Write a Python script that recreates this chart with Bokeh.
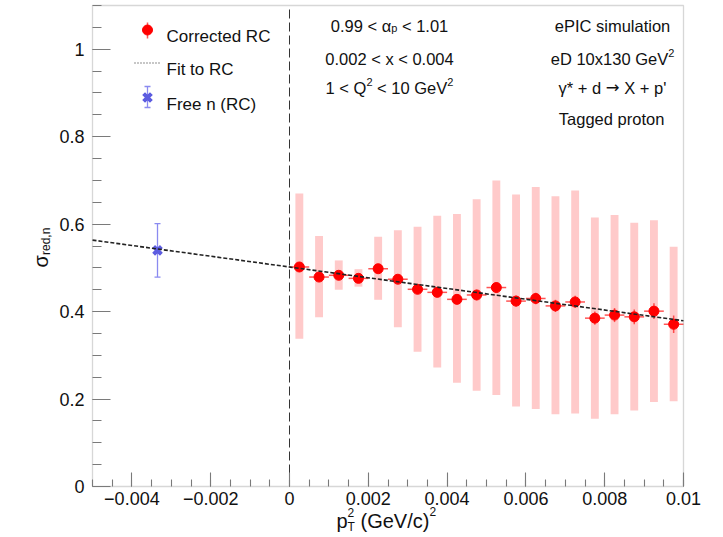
import math

from bokeh.embed import file_html
from bokeh.models import BoxAnnotation, CustomJSTickFormatter, FixedTicker, Label, Range1d
from bokeh.plotting import figure
from bokeh.resources import INLINE

# ---------------------------------------------------------------- data
# p_T^2 bin centres (GeV/c)^2 and bin half width
pt2_centers = [0.00025, 0.00075, 0.00125, 0.00175, 0.00225,
               0.00275, 0.00325, 0.00375, 0.00425, 0.00475,
               0.00525, 0.00575, 0.00625, 0.00675, 0.00725,
               0.00775, 0.00825, 0.00875, 0.00925, 0.00975]
bin_half_width = 0.00025

# reduced neutron cross section after radiative correction
sigma_rc = [0.502, 0.479, 0.483, 0.476, 0.498, 0.474, 0.451, 0.444, 0.428, 0.438,
            0.455, 0.424, 0.430, 0.413, 0.422, 0.385, 0.392, 0.388, 0.401, 0.371]
stat_err = [0.008, 0.009, 0.009, 0.009, 0.010, 0.010, 0.010, 0.011, 0.011, 0.012,
            0.012, 0.013, 0.013, 0.014, 0.014, 0.015, 0.016, 0.017, 0.018, 0.020]

# systematic band per bin (lower / upper edge)
sys_low = [0.338, 0.387, 0.450, 0.457, 0.427, 0.364, 0.308, 0.272, 0.237, 0.219,
           0.209, 0.183, 0.177, 0.165, 0.167, 0.155, 0.165, 0.174, 0.193, 0.195]
sys_high = [0.670, 0.573, 0.517, 0.497, 0.571, 0.586, 0.594, 0.619, 0.623, 0.657,
            0.700, 0.668, 0.685, 0.664, 0.677, 0.615, 0.621, 0.603, 0.609, 0.548]

# free neutron point (extrapolated to the pole)
free_n_pt2 = [-0.00335]
free_n_sigma = [0.540]
free_n_err = [0.061]

# linear fit to the corrected points
fit_intercept = 0.502
fit_slope = -12.3

x_major_ticks = [-0.004, -0.002, 0.0, 0.002, 0.004, 0.006, 0.008, 0.01]
y_major_ticks = [0.0, 0.2, 0.4, 0.6, 0.8, 1.0]

X_MIN, X_MAX = -0.005, 0.01
Y_MIN, Y_MAX = 0.0, 1.1

# ---------------------------------------------------------------- layout
# The plotting frame fills the whole canvas; the axes sit at the edges of
# the data box so that titles with sub/superscripts can live next to them.
W, H = 723, 537
FL, FR, FT, FB = 92, 683, 5, 486          # data box edges in canvas pixels
FONT = "Liberation Sans"
TXT = "#111111"
FRAME = "#7a7a7a"


def cx(px):
    return X_MIN + (px - FL) / (FR - FL) * (X_MAX - X_MIN)


def cy(py):
    return Y_MIN + (FB - py) / (FB - FT) * (Y_MAX - Y_MIN)


p = figure(width=W, height=H,
           x_range=Range1d(cx(0), cx(W)), y_range=Range1d(cy(H), cy(0)),
           output_backend="svg", toolbar_location=None, min_border=0)
p.background_fill_color = "white"
p.border_fill_color = "white"
p.outline_line_color = None
p.xgrid.visible = False
p.ygrid.visible = False

fmt = CustomJSTickFormatter(code="""
    const s = parseFloat(tick.toFixed(4)).toString();
    return s.replace('-', '\\u2212');
""")

x_minor = [round(X_MIN + 0.0005 * i, 5) for i in range(31)]
y_minor = [round(0.05 * i, 3) for i in range(23)]

p.xaxis.fixed_location = Y_MIN
p.yaxis.fixed_location = X_MIN
p.xaxis.ticker = FixedTicker(ticks=x_major_ticks, minor_ticks=x_minor)
p.yaxis.ticker = FixedTicker(ticks=y_major_ticks, minor_ticks=y_minor)
for ax in (p.xaxis, p.yaxis):
    ax.formatter = fmt
    ax.axis_line_color = None
    ax.major_tick_line_color = FRAME
    ax.minor_tick_line_color = FRAME
    ax.major_tick_line_width = 1.1
    ax.minor_tick_line_width = 1.1
    ax.major_tick_out = 0
    ax.minor_tick_out = 0
    ax.major_label_text_font = FONT
    ax.major_label_text_color = TXT
    ax.major_label_text_font_size = "18px"
p.xaxis.major_tick_in = 14
p.xaxis.minor_tick_in = 7
p.yaxis.major_tick_in = 18
p.yaxis.minor_tick_in = 9
p.xaxis.major_label_standoff = 5
p.yaxis.major_label_standoff = 8

# ---------------------------------------------------------------- marks
# systematic bands
box_half = 0.0001
p.quad(left=[x - box_half for x in pt2_centers], right=[x + box_half for x in pt2_centers],
       bottom=sys_low, top=sys_high, fill_color="#ffcaca", line_color=None)

# vertical reference line at p_T^2 = 0
p.segment(x0=[0.0], x1=[0.0], y0=[Y_MIN], y1=[Y_MAX],
          line_color="#333333", line_width=1, line_dash="9 4")

# statistical error bars
p.segment(x0=pt2_centers, x1=pt2_centers,
          y0=[v - e for v, e in zip(sigma_rc, stat_err)],
          y1=[v + e for v, e in zip(sigma_rc, stat_err)],
          line_color="#ff2a2a", line_width=1.5, line_alpha=0.8)
p.segment(x0=[x - bin_half_width for x in pt2_centers], x1=[x + bin_half_width for x in pt2_centers],
          y0=sigma_rc, y1=sigma_rc, line_color="#ff2a2a", line_width=1.5, line_alpha=0.8)
p.scatter(x=pt2_centers, y=sigma_rc, marker="circle", size=10,
          fill_color="#ff0000", line_color="#ff0000")

# free neutron point
BLUE = "#5c5ce0"
BLUE_BAR = "#8a8af0"
p.segment(x0=free_n_pt2, x1=free_n_pt2,
          y0=[v - e for v, e in zip(free_n_sigma, free_n_err)],
          y1=[v + e for v, e in zip(free_n_sigma, free_n_err)],
          line_color=BLUE_BAR, line_width=1.3)
p.scatter(x=free_n_pt2 * 2,
          y=[free_n_sigma[0] - free_n_err[0], free_n_sigma[0] + free_n_err[0]],
          marker="dash", size=6, line_color=BLUE_BAR, line_width=1.3)
p.scatter(x=free_n_pt2, y=free_n_sigma, marker="x", size=11, line_color=BLUE, line_width=4)

# fit line across the full range
fit_x = [X_MIN, X_MAX]
fit_y = [fit_intercept + fit_slope * x for x in fit_x]
p.line(x=fit_x, y=fit_y, line_color="#222222", line_width=1.6, line_dash="4 2")

# frame around the data box
p.add_layout(BoxAnnotation(left=X_MIN, right=X_MAX, bottom=Y_MIN, top=Y_MAX,
                           fill_color=None, fill_alpha=0, line_color=FRAME, line_width=1.3))

# ---------------------------------------------------------------- legend key
p.segment(x0=[cx(147)], x1=[cx(147)], y0=[cy(38)], y1=[cy(22)],
          line_color="#ff2a2a", line_width=1.5, line_alpha=0.8)
p.scatter(x=[cx(147)], y=[cy(29.5)], marker="circle", size=10,
          fill_color="#ff0000", line_color="#ff0000")
p.line(x=[cx(134), cx(161)], y=[cy(62.5)] * 2, line_color="#222222", line_width=1.2, line_dash="1 2")
p.segment(x0=[cx(147)], x1=[cx(147)], y0=[cy(107)], y1=[cy(86)], line_color=BLUE_BAR, line_width=1.3)
p.scatter(x=[cx(147)] * 2, y=[cy(107), cy(86)], marker="dash", size=6, line_color=BLUE_BAR, line_width=1.3)
p.scatter(x=[cx(147)], y=[cy(97)], marker="x", size=11, line_color=BLUE, line_width=4)

# ---------------------------------------------------------------- text
CHAR_W = {" ": 278, ".": 278, ",": 278, "<": 584, ">": 584, "+": 584, "*": 389, "'": 191,
          "(": 333, ")": 333, "/": 278, "\u2192": 838, "\u03b1": 578, "\u03b3": 500, "\u03c3": 600,
          "a": 556, "b": 556, "c": 500, "d": 556, "e": 556, "f": 278, "g": 556, "h": 556,
          "i": 222, "l": 222, "m": 833, "n": 556, "o": 556, "p": 556, "r": 333, "s": 500,
          "t": 278, "u": 556, "x": 500, "C": 722, "D": 722, "F": 611, "G": 778, "I": 278,
          "P": 667, "Q": 778, "R": 722, "T": 611, "V": 667, "X": 667}


def text_width(s, size):
    return sum(CHAR_W.get(ch, 556) for ch in s) / 1000.0 * size


def put(text, px, py, size, angle=0.0, font=FONT):
    p.add_layout(Label(x=cx(px), y=cy(py), text=text, text_font=font,
                       text_font_size=f"{size}px", text_color=TXT, text_align="left",
                       text_baseline="alphabetic", angle=angle))


def put_runs(runs, px, py, align="left"):
    """runs: (text, size, rise_px[, font]); spaces are turned into offsets."""
    total = sum(text_width(r[0], r[1]) for r in runs)
    x = px - total / 2.0 if align == "center" else px
    for r in runs:
        t, s, rise = r[0], r[1], r[2]
        font = r[3] if len(r) > 3 else FONT
        body = t.lstrip(" ")
        lead = text_width(t[:len(t) - len(body)], s)
        if body.strip():
            put(body.rstrip(" "), x + lead, py - rise, s, font=font)
        x += text_width(t, s)


# legend labels
put("Corrected RC", 166, 36, 17)
put("Fit to RC", 166, 69, 17)
put("Free n (RC)", 166, 104, 17)

# kinematic selection
TS, SS = 16.5, 11
put_runs([("0.99 < \u03b1", TS, 0), ("p", SS, -2), (" < 1.01", TS, 0)], 389, 25, "center")
put_runs([("0.002 < x < 0.004", TS, 0)], 389, 58, "center")
put_runs([("1 < Q", TS, 0), ("2", SS, 6), (" < 10 GeV", TS, 0), ("2", SS, 6)], 389, 87, "center")

# simulation info
put_runs([("ePIC simulation", TS, 0)], 612, 25, "center")
put_runs([("eD 10x130 GeV", TS, 0), ("2", SS, 6)], 612, 58, "center")
put_runs([("\u03b3* + d ", TS, 0), ("\u2192", TS, 0, "DejaVu Sans"), (" X + p'", TS, 0)],
         612, 87, "center")
put_runs([("Tagged proton", TS, 0)], 612, 118, "center")

# x-axis title: p_T^2 (GeV/c)^2
AT, AS = 20, 12
x0 = 336
put("p", x0, 520, AT)
xs = x0 + text_width("p", AT)
put("2", xs, 512, AS)
put("T", xs, 526, AS)
xr = xs + text_width("T", AS) + text_width(" ", AT)
put("(GeV/c)", xr, 520, AT)
put("2", xr + text_width("(GeV/c)", AT), 511, AS)

# y-axis title: sigma_red,n (reads bottom to top)
put("\u03c3", 40, 267, AT, angle=math.pi / 2)
put("red,n", 45.5, 267 - text_width("\u03c3", AT) - 0.5, AS, angle=math.pi / 2)

open("out.html", "w").write(file_html(p, INLINE))
